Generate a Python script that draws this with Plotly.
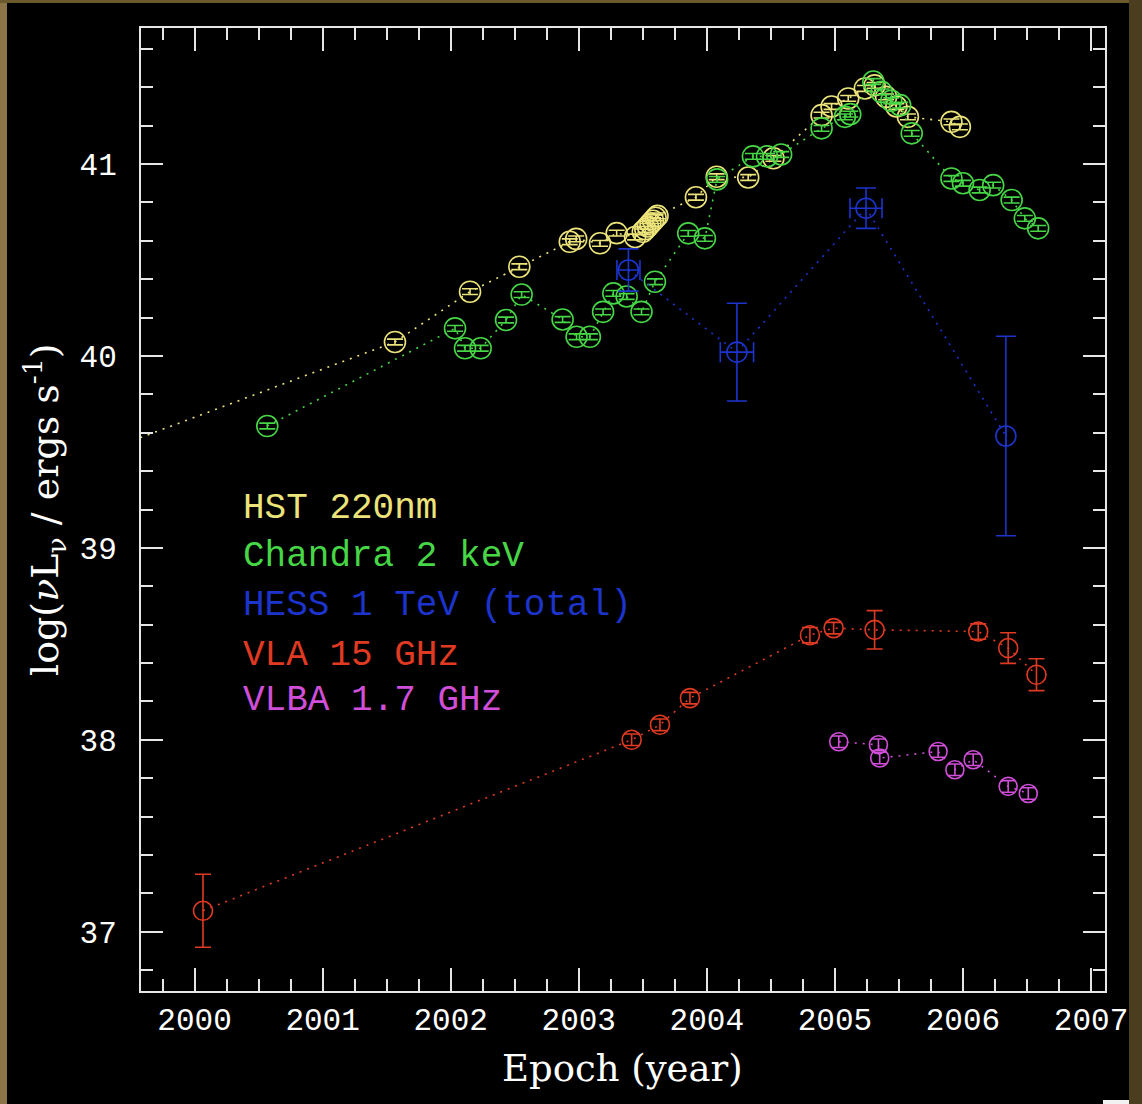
import plotly.graph_objects as go

# ---- data -------------------------------------------------------------
hst_year = [1999.40, 2001.565, 2002.151, 2002.536, 2002.93, 2002.98, 2003.166,
            2003.296, 2003.44, 2003.50, 2003.52, 2003.54, 2003.56, 2003.58,
            2003.60, 2003.615,
            2003.915, 2004.077, 2004.323, 2004.52, 2004.896, 2004.974,
            2005.104, 2005.234, 2005.31, 2005.40, 2005.48, 2005.57,
            2005.91, 2005.976]
hst_lum = [39.53, 40.073, 40.335, 40.465, 40.595, 40.61, 40.587,
           40.64, 40.62, 40.647, 40.66, 40.675, 40.69, 40.705,
           40.72, 40.73,
           40.827, 40.934, 40.93, 41.03, 41.255, 41.30,
           41.342, 41.394, 41.41, 41.35, 41.30, 41.246,
           41.22, 41.194]

chandra_year = [2000.568, 2002.034, 2002.112, 2002.234, 2002.432, 2002.554,
                2002.874, 2002.983, 2003.087, 2003.19, 2003.27, 2003.374,
                2003.49, 2003.595, 2003.855, 2003.985, 2004.08, 2004.36,
                2004.47, 2004.58, 2004.896, 2005.078, 2005.12, 2005.30,
                2005.365, 2005.44, 2005.51, 2005.60, 2005.91, 2006.0,
                2006.13, 2006.236, 2006.38, 2006.483, 2006.587]
chandra_lum = [39.635, 40.144, 40.04, 40.04, 40.1875, 40.32,
               40.19, 40.10, 40.10, 40.23, 40.326, 40.31,
               40.23, 40.387, 40.639, 40.613, 40.92, 41.04,
               41.04, 41.05, 41.186, 41.246, 41.26, 41.43,
               41.376, 41.33, 41.307, 41.16, 40.925, 40.90,
               40.865, 40.89, 40.8125, 40.717, 40.665]

hess_year = [2003.388, 2004.235, 2005.243, 2006.335]
hess_lum = [40.448, 40.02, 40.77, 39.583]
hess_yerr = [0.11, 0.255, 0.105, 0.52]
hess_xerr = [0.09, 0.13, 0.125, 0.0]

vla_year = [2000.066, 2003.413, 2003.634, 2003.868, 2004.805, 2004.99,
            2005.31, 2006.119, 2006.353, 2006.574]
vla_lum = [37.109, 38.0, 38.078, 38.217, 38.545, 38.582,
           38.573, 38.564, 38.478, 38.339]
vla_yerr = [0.19, 0.03, 0.03, 0.03, 0.04, 0.03, 0.1, 0.04, 0.08, 0.083]

vlba_year = [2005.03, 2005.34, 2005.35, 2005.806, 2005.937, 2006.08,
             2006.353, 2006.51]
vlba_lum = [37.99, 37.974, 37.905, 37.939, 37.844, 37.896, 37.757, 37.72]
vlba_yerr = [0.03] * len(vlba_year)

series_names = ["HST 220nm", "Chandra 2 keV", "HESS 1 TeV (total)",
                "VLA 15 GHz", "VLBA 1.7 GHz"]
series_colors = ["#ece47a", "#46d646", "#1c34cc", "#e03a22", "#d04ed8"]

x_tick_vals = [2000, 2001, 2002, 2003, 2004, 2005, 2006, 2007]
y_tick_vals = [37, 38, 39, 40, 41]

# ---- figure -----------------------------------------------------------
W, H = 1142, 1104
L, R, T, B = 141, 1105, 28, 991          # plot-area edges in pixels
fig = go.Figure()

DOT = "2px,6px"


def add_series(x, y, color, yerr=None, xerr=None, cap=6, size=20):
    ey = dict(type="data", array=yerr, visible=True, color=color,
              thickness=1.6, width=cap) if yerr is not None else None
    ex = dict(type="data", array=xerr, visible=True, color=color,
              thickness=1.6, width=cap) if xerr is not None else None
    fig.add_trace(go.Scatter(
        x=x, y=y, mode="lines+markers",
        line=dict(color=color, width=1.6, dash=DOT),
        marker=dict(symbol="circle-open", size=size,
                    line=dict(color=color, width=1.6), color=color),
        error_y=ey, error_x=ex, showlegend=False, cliponaxis=True))


add_series(hst_year, hst_lum, series_colors[0],
           yerr=[0.015] * len(hst_year), cap=8, size=21)
add_series(chandra_year, chandra_lum, series_colors[1],
           yerr=[0.015] * len(chandra_year), cap=8, size=21)
add_series(hess_year, hess_lum, series_colors[2],
           yerr=hess_yerr, xerr=hess_xerr, cap=10)
add_series(vla_year, vla_lum, series_colors[3], yerr=vla_yerr, cap=8, size=19)
add_series(vlba_year, vlba_lum, series_colors[4], yerr=vlba_yerr, cap=7, size=18)


def px_x(px):
    return (px - L) / (R - L)


def px_y(py):
    return (B - py) / (B - T)


# series labels
label_rows = [508, 556, 605, 655, 700]
for name, color, py in zip(series_names, series_colors, label_rows):
    fig.add_annotation(x=px_x(241), y=px_y(py), xref="paper", yref="paper",
                       text=name, showarrow=False, xanchor="left",
                       yanchor="middle",
                       font=dict(family="Liberation Mono", size=36,
                                 color=color))

# axis titles
fig.add_annotation(x=px_x(622), y=px_y(1068), xref="paper", yref="paper",
                   text="Epoch (year)", showarrow=False,
                   xanchor="center", yanchor="middle",
                   font=dict(family="DejaVu Serif", size=37, color="white"))
fig.add_annotation(x=px_x(44), y=px_y(510), xref="paper", yref="paper",
                   text="log(<i>ν</i>L<sub>ν</sub> / ergs s<sup>-1</sup>)",
                   showarrow=False, textangle=-90,
                   xanchor="center", yanchor="middle",
                   font=dict(family="DejaVu Serif", size=38, color="white"))

# border strips around the dark panel
strips = [
    (0, 0, 7, H, "#8c7448"),
    (0, 0, W, 3, "#6a5a2c"),
    (1129, 0, W, H, "#4a3e1e"),
    (1103, 1100, 1129, H, "#f2f2f2"),
]
for x0, y0, x1, y1, c in strips:
    fig.add_shape(type="rect", xref="paper", yref="paper",
                  x0=px_x(x0), x1=px_x(x1), y0=px_y(y1), y1=px_y(y0),
                  fillcolor=c, line=dict(width=0), layer="below")

axis_common = dict(
    showgrid=False, zeroline=False, showline=True, linecolor="#e6e6e6",
    linewidth=2, mirror="allticks", ticks="inside", tickcolor="#e6e6e6",
    tickwidth=2, tickfont=dict(family="Liberation Mono", size=31,
                               color="white"),
)

fig.update_layout(
    width=W, height=H,
    margin=dict(l=L, r=W - R, t=T, b=H - B, pad=0),
    paper_bgcolor="black", plot_bgcolor="black",
    xaxis=dict(range=[1999.582, 2007.109], tickmode="array",
               tickvals=x_tick_vals, ticklen=23, ticklabelstandoff=0,
               minor=dict(dtick=0.25, tick0=2000, ticks="inside",
                          ticklen=12, tickcolor="#e6e6e6", tickwidth=2),
               **axis_common),
    yaxis=dict(range=[36.691, 41.709], tickmode="array",
               tickvals=y_tick_vals, ticklen=22, ticklabelstandoff=16,
               minor=dict(dtick=0.2, tick0=37, ticks="inside",
                          ticklen=12, tickcolor="#e6e6e6", tickwidth=2),
               **axis_common),
)

fig.write_html("out.html")
